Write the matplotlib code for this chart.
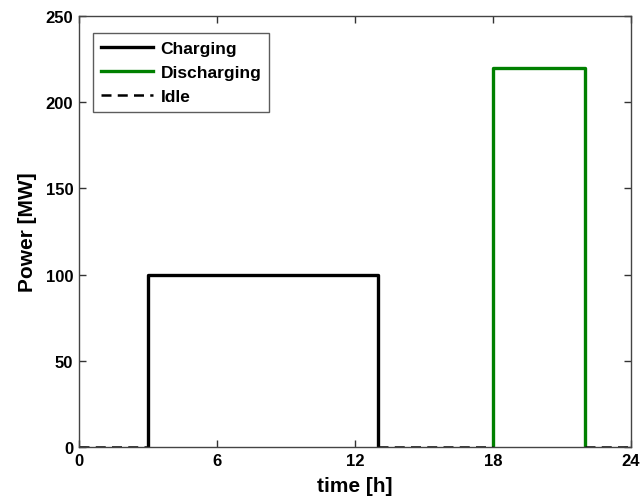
import matplotlib
matplotlib.use("Agg")
import matplotlib.pyplot as plt

# Daily storage schedule (hours, MW)
charge_t = [3, 3, 13, 13]
charge_p = [0, 100, 100, 0]
discharge_t = [18, 18, 22, 22]
discharge_p = [0, 220, 220, 0]
idle_segments = [(0, 3), (13, 18), (22, 24)]

x_ticks = [0, 6, 12, 18, 24]
y_ticks = [0, 50, 100, 150, 200, 250]

plt.rcParams['font.family'] = ['Liberation Sans', 'DejaVu Sans']
plt.rcParams['font.weight'] = 'bold'

fig = plt.figure(figsize=(6.4, 5.02), dpi=100)
ax = fig.add_axes([0.123, 0.1076, 0.863, 0.8586])

ax.plot(charge_t, charge_p, color='black', lw=2.4, label='Charging')
ax.plot(discharge_t, discharge_p, color='#008000', lw=2.4, label='Discharging')
for i, (a, b) in enumerate(idle_segments):
    ax.plot([a, b], [0, 0], color='black', lw=1.8, ls=(0, (4, 2.5)),
            label='Idle' if i == 0 else None)

ax.set_xlim(0, 24)
ax.set_ylim(0, 250)
ax.set_xticks(x_ticks)
ax.set_yticks(y_ticks)
ax.tick_params(direction='in', top=True, right=True, length=5, width=1,
               labelsize=12, color='#333333', pad=4)
for s in ax.spines.values():
    s.set_color('#444444')
    s.set_linewidth(1)

ax.set_xlabel('time [h]', fontsize=15, fontweight='bold', labelpad=6)
ax.set_ylabel('Power [MW]', fontsize=15, fontweight='bold', labelpad=6)

leg = ax.legend(loc='upper left', bbox_to_anchor=(0.01, 0.98), fontsize=12.5,
                frameon=True, fancybox=False, handlelength=3.0,
                borderpad=0.45, labelspacing=0.5, handletextpad=0.45)
leg.get_frame().set_edgecolor('#333333')
leg.get_frame().set_linewidth(1)

fig.savefig('out.png', dpi=100)
